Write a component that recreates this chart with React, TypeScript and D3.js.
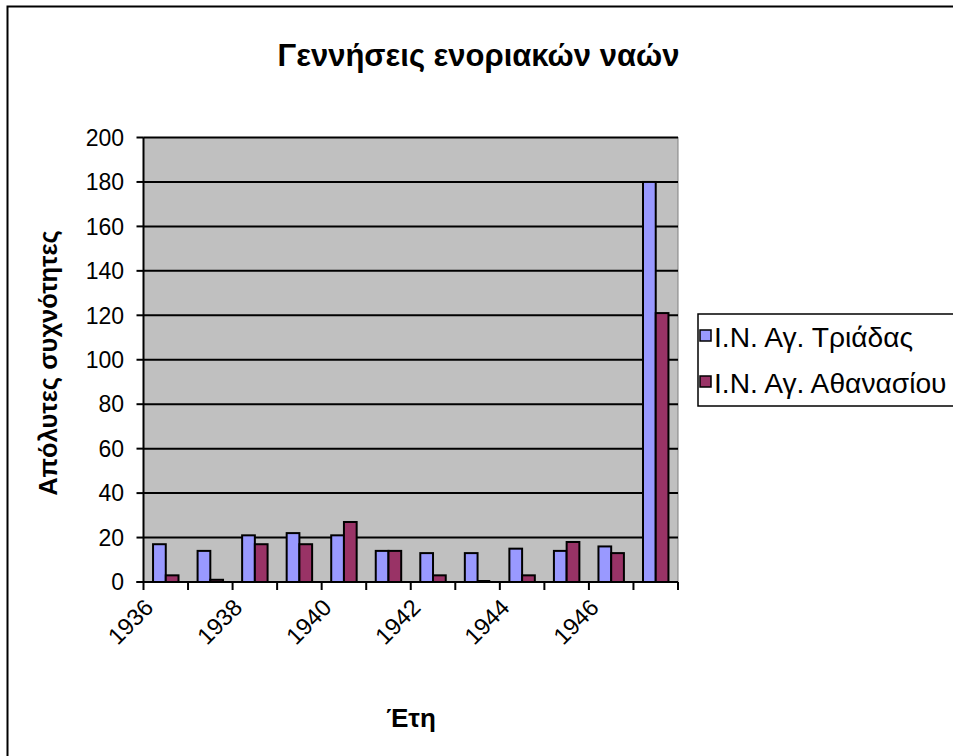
import React from "react";
import * as d3 from "d3";

const years = ["1936","1937","1938","1939","1940","1941","1942","1943","1944","1945","1946","1947"];
const tickLabels = ["1936","","1938","","1940","","1942","","1944","","1946",""];
const seriesNames = ["Ι.Ν. Αγ. Τριάδας", "Ι.Ν. Αγ. Αθανασίου"];
const triadas = [17, 14, 21, 22, 21, 14, 13, 13, 15, 14, 16, 180];
const athanasiou = [3, 1, 17, 17, 27, 14, 3, 0, 3, 18, 13, 121];
const yTicks = [0, 20, 40, 60, 80, 100, 120, 140, 160, 180, 200];
const colors = ["#9999FF", "#993366"];

const FONT = "'Liberation Sans', Arial, sans-serif";

export default function App() {
  const W = 953, H = 756;
  const left = 143.5, right = 678, top = 137.5, bottom = 582;
  const x = d3.scaleBand<string>().domain(years).range([left, right]).padding(0);
  const inner = d3.scaleBand<string>().domain(seriesNames).range([0, x.bandwidth()]).paddingInner(0).paddingOuter(0.75);
  const y = d3.scaleLinear().domain([0, 200]).range([bottom, top]);
  const data = [triadas, athanasiou];

  return (
    <svg width={W} height={H} style={{ position: "absolute", left: 0, top: 0 }} fontFamily={FONT}>
      <rect x={0} y={0} width={W} height={H} fill="#fff" />
      <rect x={7.5} y={6.5} width={1100} height={900} fill="none" stroke="#000" strokeWidth={2} />
      <text x={478.5} y={66} textAnchor="middle" fontSize={31} fontWeight="bold">Γεννήσεις ενοριακών ναών</text>
      <rect x={left} y={top} width={right - left} height={bottom - top} fill="#C0C0C0" stroke="#808080" strokeWidth={1} />
      {yTicks.map((t) => (
        <g key={t}>
          {t > 0 && <line x1={left} x2={right} y1={y(t)} y2={y(t)} stroke="#000" strokeWidth={2} />}
          <line x1={left - 7} x2={left} y1={y(t)} y2={y(t)} stroke="#000" strokeWidth={2} />
          <text x={124} y={y(t)} dy="0.36em" textAnchor="end" fontSize={23}>{t}</text>
        </g>
      ))}
      {data.map((vals, si) =>
        years.map((yr, i) => {
          const x0 = (x(yr) as number) + (inner(seriesNames[si]) as number);
          const h = y(0) - y(vals[i]);
          return h > 0 ? (
            <rect key={si + "-" + yr} x={x0} y={y(vals[i])} width={inner.bandwidth()} height={h}
              fill={colors[si]} stroke="#000" strokeWidth={2} />
          ) : (
            <line key={si + "-" + yr} x1={x0} x2={x0 + inner.bandwidth()} y1={y(0) - 1} y2={y(0) - 1}
              stroke="#000" strokeWidth={2} />
          );
        })
      )}
      <line x1={left} x2={left} y1={top} y2={bottom} stroke="#000" strokeWidth={2} />
      <line x1={left - 7} x2={right} y1={bottom} y2={bottom} stroke="#000" strokeWidth={2} />
      {years.map((yr) => (
        <line key={"t" + yr} x1={(x(yr) as number)} x2={(x(yr) as number)} y1={bottom} y2={bottom + 8} stroke="#000" strokeWidth={2} />
      ))}
      <line x1={right} x2={right} y1={bottom} y2={bottom + 8} stroke="#000" strokeWidth={2} />
      {years.map((yr, i) => tickLabels[i] ? (
        <text key={"l" + yr} transform={`translate(${(x(yr) as number) + x.bandwidth() / 2 - 11},609) rotate(-45)`}
          textAnchor="end" fontSize={23.5}>{tickLabels[i]}</text>
      ) : null)}
      <text transform={`translate(57,363) rotate(-90)`} textAnchor="middle" fontSize={25.5} fontWeight="bold">Απόλυτες συχνότητες</text>
      <text x={411} y={727} textAnchor="middle" fontSize={26} fontWeight="bold">Έτη</text>
      <rect x={698} y={314} width={300} height={92} fill="#fff" stroke="#000" strokeWidth={1.5} />
      {seriesNames.map((s, i) => (
        <g key={s} transform={`translate(700,${337 + i * 46})`}>
          <rect x={0} y={-7} width={11} height={11} fill={colors[i]} stroke="#000" strokeWidth={1.5} />
          <text x={14} y={0} dy="0.36em" fontSize={28.2}>{s}</text>
        </g>
      ))}
    </svg>
  );
}
